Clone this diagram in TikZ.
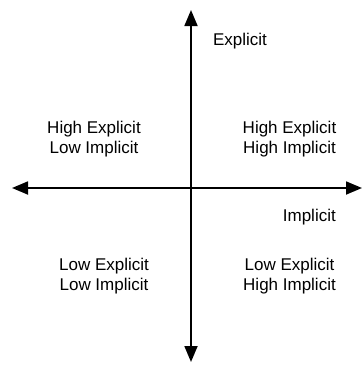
\documentclass[tikz,border=0pt]{standalone}
\usepackage{fontspec}
\setmainfont{Liberation Sans}
\usetikzlibrary{arrows.meta}
\tikzset{
  axisline/.style={line width=1.8pt, {Triangle[length=16pt,width=13pt]}-{Triangle[length=16pt,width=13pt]}},
  lbl/.style={font=\fontsize{17}{20}\selectfont, align=center, inner sep=0pt, anchor=north}
}
\begin{document}
\begin{tikzpicture}[x=1pt,y=-1pt]
\useasboundingbox (0,0) rectangle (362,365);
\coordinate (top) at (191,10);
\coordinate (bot) at (191,362);
\coordinate (lft) at (12,188);
\coordinate (rgt) at (362,188);
\draw[axisline] (top) -- (bot);
\draw[axisline] (lft) -- (rgt);
\node[lbl] (tl) at (94,121) {High Explicit\\Low Implicit};
\node[lbl] (tr) at (289.5,121) {High Explicit\\High Implicit};
\node[lbl] (bl) at (104,258) {Low Explicit\\Low Implicit};
\node[lbl] (br) at (289.5,258) {Low Explicit\\High Implicit};
\node[lbl] (ex) at (240,33) {Explicit};
\node[lbl, anchor=north east] (im) at (336,209) {Implicit};
\end{tikzpicture}
\end{document}
